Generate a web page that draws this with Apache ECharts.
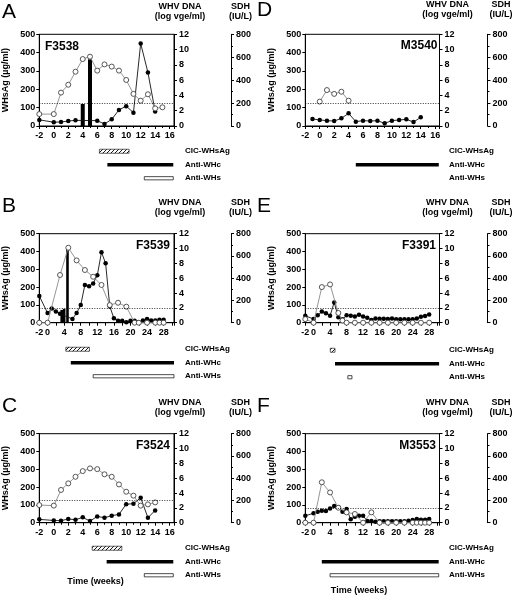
<!DOCTYPE html>
<html><head><meta charset="utf-8">
<script src="https://cdn.jsdelivr.net/npm/echarts@6/dist/echarts.min.js"></script>
<style>html,body{margin:0;padding:0;background:#fff}#c{width:512px;height:595px}</style>
</head><body><div id="c"></div>
<script>
// ---------------- DATA ----------------
const ticks16 = [-2,0,2,4,6,8,10,12,14,16];
const ticks28 = [-2,0,4,8,12,16,20,24,28];
const rowLabels = ['CIC-WHsAg','Anti-WHc','Anti-WHs'];

// Panel A  F3538
const aWhsAg = [[-2,65],[0,65],[1,182],[2,225],[3,296],[4,365],[5,378],[6,302],[7,336],[8,324],[9,302],[10,251],[11,175],[12,138],[13,173],[14,96],[15,102]];
const aDna = [[-2,0.8],[0,0.5],[1,0.52],[2,0.65],[3,0.74],[6,0.7],[7,0.26],[8,0.87],[9,2.1],[10,2.6],[11,1.75],[12,10.8],[13,7.0],[14,1.9]];
const aSdh = [[4,192],[5,582]];
const aBars = [[6.3,10.4,0],[7.4,16.5,1],[12.5,16.5,2]];

// Panel B  F3539
const bWhsAg = [[-2,0],[0,0],[3,268],[5,421],[7,350],[9,296],[11,258],[13,212],[15,99],[17,112],[19,90],[21,0],[22,0],[24,0],[26,0],[27,0],[28,0]];
const bDna = [[-2,3.6],[0,1.3],[1,1.9],[2,1.5],[3,1.2],[6,0.5],[7,1.3],[8,2.4],[9,5.1],[10,4.9],[11,5.3],[12,6.4],[13,9.5],[14,8.0],[15,2.2],[16,0.6],[17,0.25],[18,0.25],[19,0.05],[20,0.25],[21,0.25],[22,0.05],[23,0.3],[24,0.5],[25,0.3],[26,0.3],[27,0.4],[28,0.4]];
const bSdh = [[3.4,115],[4,125],[4.8,675]];
const bBars = [[4.4,10.1,0],[5.6,30.5,1],[11,30.5,2]];

// Panel C  F3524
const cWhsAg = [[-2,99],[0,96],[1,184],[2,221],[3,258],[4,290],[5,305],[6,301],[7,272],[8,258],[9,215],[10,174],[11,152],[12,96],[13,103],[14,114]];
const cDna = [[-2,0.45],[0,0.3],[1,0.27],[2,0.5],[3,0.4],[4,0.72],[5,0.22],[6,0.85],[7,0.67],[8,0.94],[9,1.12],[10,2.5],[11,2.56],[12,3.37],[13,0.67],[14,1.66]];
const cSdh = [];
const cBars = [[5.3,9.4,0],[7.3,16.5,1],[12.5,16.5,2]];

// Panel D  M3540
const dWhsAg = [[0,133],[1,196],[2,175],[3,187],[4,138]];
const dDna = [[-1,0.92],[0,0.79],[1,0.7],[2,0.65],[3,1.0],[4,1.66],[5,0.57],[6,0.7],[7,0.65],[8,0.7],[9,0.35],[10,0.7],[11,0.79],[12,0.87],[13,0.52],[14,1.13]];
const dSdh = [];
const dBars = [[5.0,16.5,1]];

// Panel E  F3391
const eWhsAg = [[-2,20],[0,0],[2,200],[4,215],[6,55],[7,12],[8,0],[10,0],[12,0],[14,0],[16,0],[18,0],[20,0],[22,0],[24,0],[26,0],[28,0]];
const eDna = [[-2,0.94],[0,0.5],[1,1.0],[2,1.5],[3,1.26],[4,0.94],[5,2.74],[6,0.72],[7,0.45],[8,1.0],[9,0.94],[10,0.85],[11,1.08],[12,0.85],[13,0.67],[14,0.36],[15,0.58],[16,0.54],[17,0.54],[18,0.5],[19,0.58],[20,0.45],[21,0.45],[22,0.45],[23,0.45],[24,0.45],[25,0.58],[26,0.8],[27,0.9],[28,1.1]];
const eSdh = [];
const eBars = [[4.05,5.2,0],[5.2,30.4,1],[8.3,9.3,2]];

// Panel F  M3553
const fWhsAg = [[-2,0],[0,0],[2,227],[4,170],[6,84],[8,58],[10,49],[12,0],[14,58],[16,0],[18,0],[20,0],[22,0],[24,0],[25,0],[26,0],[27,0],[28,0]];
const fDna = [[-2,0.94],[0,1.26],[1,1.48],[2,1.6],[3,1.57],[4,1.93],[5,2.25],[6,2.1],[7,1.48],[8,1.84],[9,0.45],[10,0.8],[11,0.94],[12,0.94],[13,0.22],[14,0.22],[15,0.13],[16,0.2],[17,0.2],[18,0.2],[19,0.2],[20,0.2],[21,0.2],[22,0.2],[23,0.25],[24,0.36],[25,0.5],[26,0.4],[27,0.4],[28,0.5]];
const fSdh = [];
const fBars = [[2.0,30.3,1],[4.0,30.3,2]];

// ---------------- LAYOUT ----------------
const panels = [
  {L:'A',name:'F3538',whs:aWhsAg,dna:aDna,sdh:aSdh,bars:aBars,ticks:ticks16,xmax:16.6,thr:3,
   gx:39.3,gy:34.3,gw:134.7,gh:91.7,sdhOff:57,aTop:144.5,lblM:11,nameX:45,nameAlign:'left',nameY:47,
   ltx:2,lty:12,hx:180,hy:7,sx:240.5,time:null},
  {L:'B',name:'F3539',whs:bWhsAg,dna:bDna,sdh:bSdh,bars:bBars,ticks:ticks28,xmax:30.5,thr:2,
   gx:39.3,gy:233.7,gw:134.7,gh:89,sdhOff:57,aTop:342.5,lblM:11,nameX:170,nameAlign:'right',nameY:246,
   ltx:2,lty:206,hx:180,hy:203,sx:240.5,time:null},
  {L:'C',name:'F3524',whs:cWhsAg,dna:cDna,sdh:cSdh,bars:cBars,ticks:ticks16,xmax:16.6,thr:3,
   gx:39.3,gy:433.7,gw:134.7,gh:89,sdhOff:57,aTop:541.5,lblM:11,nameX:170,nameAlign:'right',nameY:446,
   ltx:2,lty:406,hx:180,hy:402.5,sx:240.5,time:[95.5,581.5]},
  {L:'D',name:'M3540',whs:dWhsAg,dna:dDna,sdh:dSdh,bars:dBars,ticks:ticks16,xmax:16.6,thr:3,
   gx:305.3,gy:34.3,gw:134.2,gh:91.7,sdhOff:48,aTop:144.5,lblM:9.5,nameX:437.5,nameAlign:'right',nameY:46,
   ltx:257,lty:10,hx:447.5,hy:5,sx:501,time:null},
  {L:'E',name:'F3391',whs:eWhsAg,dna:eDna,sdh:eSdh,bars:eBars,ticks:ticks28,xmax:30.5,thr:2,
   gx:305.3,gy:233.7,gw:134.2,gh:89,sdhOff:48,aTop:343.5,lblM:9.5,nameX:436,nameAlign:'right',nameY:246,
   ltx:257,lty:206,hx:447.5,hy:203,sx:501,time:null},
  {L:'F',name:'M3553',whs:fWhsAg,dna:fDna,sdh:fSdh,bars:fBars,ticks:ticks28,xmax:30.5,thr:2,
   gx:305.3,gy:433.7,gw:134.2,gh:89,sdhOff:48,aTop:541.5,lblM:9.5,nameX:436,nameAlign:'right',nameY:446,
   ltx:257,lty:406,hx:447.5,hy:402.5,sx:501,time:[359,590.5]}
];

const FONT = '"Liberation Sans", Arial, sans-serif';
const lab = {color:'#000',fontSize:9,fontWeight:'bold',fontFamily:FONT};
const axLine = {show:true,onZero:false,lineStyle:{color:'#000',width:1}};

// hatch pattern
const pc = document.createElement('canvas'); pc.width = 4; pc.height = 4;
const pg = pc.getContext('2d');
pg.fillStyle = '#fff'; pg.fillRect(0,0,4,4);
pg.strokeStyle = '#000'; pg.lineWidth = 0.9;
pg.beginPath(); pg.moveTo(-1,5); pg.lineTo(5,-1); pg.stroke();
const hatch = {image: pc, repeat: 'repeat'};

const grid = [], xAxis = [], yAxis = [], series = [], graphic = [];
panels.forEach((p,i) => {
  const gMain = grid.length;
  grid.push({left:p.gx, top:p.gy, width:p.gw, height:p.gh, show:true, borderColor:'#000', borderWidth:1, backgroundColor:'transparent'});
  const gAnn = grid.length;
  grid.push({left:p.gx, top:p.aTop, width:p.gw, height:40.5});
  const xm = xAxis.length;
  xAxis.push({type:'value', gridIndex:gMain, min:-2, max:p.xmax, interval:2,
    axisLine:axLine, axisTick:{show:true,length:3,lineStyle:{color:'#000'}},
    minorTick:{show:p.ticks===ticks16, splitNumber:2, length:2, lineStyle:{color:'#000'}},
    splitLine:{show:false},
    axisLabel:Object.assign({}, lab, {margin:5, showMaxLabel:true,
      formatter:(v)=> p.ticks.indexOf(v)>=0 ? String(v) : ''})});
  const xa = xAxis.length;
  xAxis.push({type:'value', gridIndex:gAnn, min:-2, max:p.xmax, show:false});
  const yl = yAxis.length;
  yAxis.push({type:'value', gridIndex:gMain, min:0, max:500, interval:100, position:'left',
    name:'WHsAg (µg/ml)', nameLocation:'middle', nameGap:29, nameTextStyle:Object.assign({},lab),
    axisLine:axLine, axisTick:{show:true,length:3,lineStyle:{color:'#000'}},
    splitLine:{show:false}, axisLabel:Object.assign({},lab,{margin:4})});
  const yr = yAxis.length;
  yAxis.push({type:'value', gridIndex:gMain, min:0, max:12, interval:2, position:'right',
    axisLine:axLine, axisTick:{show:true,length:3,lineStyle:{color:'#000'}},
    splitLine:{show:false}, axisLabel:Object.assign({},lab,{margin:5})});
  const ys = yAxis.length;
  yAxis.push({type:'value', gridIndex:gMain, min:0, max:800, interval:200, position:'right', offset:p.sdhOff,
    axisLine:axLine, axisTick:{show:true,length:3,lineStyle:{color:'#000'}},
    minorTick:{show:true,splitNumber:2,length:2,lineStyle:{color:'#000'}},
    splitLine:{show:false}, axisLabel:Object.assign({},lab,{margin:5})});
  const ya = yAxis.length;
  yAxis.push({type:'category', gridIndex:gAnn, data:rowLabels, inverse:true, position:'right',
    axisLine:{show:false}, axisTick:{show:false}, splitLine:{show:false},
    axisLabel:Object.assign({},lab,{fontSize:8, margin:p.lblM, align:'left'})});

  series.push({type:'bar', xAxisIndex:xm, yAxisIndex:ys, data:p.sdh, barWidth:p.ticks===ticks16?4:2.6,
    itemStyle:{color:'#000'}, silent:true, z:1});
  series.push({type:'line', xAxisIndex:xm, yAxisIndex:yr, data:p.dna, symbol:'circle', symbolSize:4.5,
    itemStyle:{color:'#000', borderWidth:0}, lineStyle:{color:'#111', width:0.9}, z:3, animation:false,
    markLine:{silent:true, symbol:'none', label:{show:false}, animation:false,
      lineStyle:{color:'#000', width:0.8, type:[1,1.5]}, data:[{yAxis:p.thr}]}});
  series.push({type:'line', xAxisIndex:xm, yAxisIndex:yl, data:p.whs, symbol:'circle', symbolSize:5,
    itemStyle:{color:'#fff', borderColor:'#444', borderWidth:0.9}, lineStyle:{color:'#8a8a8a', width:0.9}, z:4, animation:false});
  series.push({type:'custom', xAxisIndex:xa, yAxisIndex:ya, data:p.bars, encode:{x:[0,1], y:2}, animation:false,
    renderItem:(params, api) => {
      const k = api.value(2);
      const s = api.coord([api.value(0), k]);
      const e = api.coord([api.value(1), k]);
      const h = [4, 3.6, 3.2][k];
      const style = k===0 ? {fill:hatch, stroke:'#000', lineWidth:0.6}
                  : k===1 ? {fill:'#000'} : {fill:'#fff', stroke:'#000', lineWidth:0.7};
      return {type:'rect', shape:{x:s[0], y:s[1]-h/2, width:e[0]-s[0], height:h}, style:style};
    }});

  graphic.push({type:'text', x:p.ltx, y:p.lty, style:{text:p.L, font:'21px '+FONT, fill:'#000', textVerticalAlign:'middle'}});
  graphic.push({type:'text', x:p.nameX, y:p.nameY, style:{text:p.name, font:'bold 12px '+FONT, fill:'#000', textAlign:p.nameAlign, textVerticalAlign:'middle'}});
  graphic.push({type:'text', x:p.hx, y:p.hy, style:{text:'WHV DNA', font:'bold 9px '+FONT, fill:'#000', textAlign:'center', textVerticalAlign:'middle'}});
  graphic.push({type:'text', x:p.hx, y:p.hy+10, style:{text:'(log vge/ml)', font:'bold 9px '+FONT, fill:'#000', textAlign:'center', textVerticalAlign:'middle'}});
  graphic.push({type:'text', x:p.sx, y:p.hy, style:{text:'SDH', font:'bold 9px '+FONT, fill:'#000', textAlign:'center', textVerticalAlign:'middle'}});
  graphic.push({type:'text', x:p.sx, y:p.hy+10, style:{text:'(IU/L)', font:'bold 9px '+FONT, fill:'#000', textAlign:'center', textVerticalAlign:'middle'}});
  if (p.time) graphic.push({type:'text', x:p.time[0], y:p.time[1], style:{text:'Time (weeks)', font:'bold 9px '+FONT, fill:'#000', textAlign:'center', textVerticalAlign:'middle'}});
});

const chart = echarts.init(document.getElementById('c'), null, {renderer:'canvas'});
chart.setOption({animation:false, backgroundColor:'#fff', grid, xAxis, yAxis, series, graphic});
</script>
</body></html>
